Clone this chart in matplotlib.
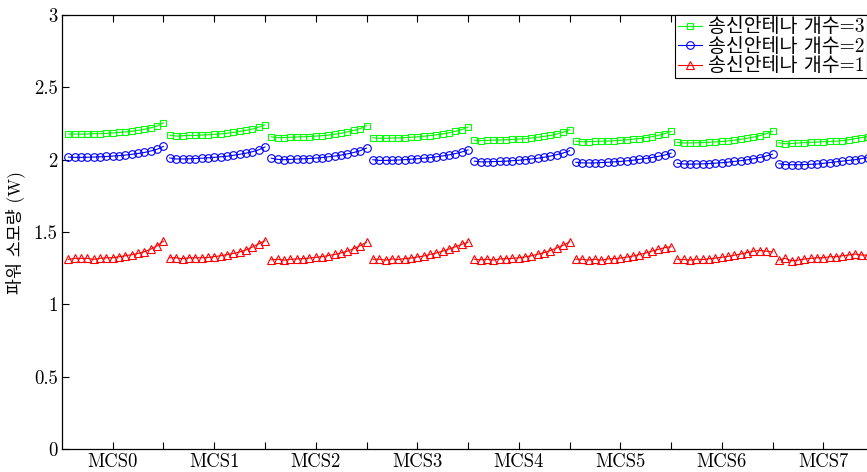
import numpy as np
import matplotlib
matplotlib.use('Agg')
import matplotlib.pyplot as plt

plt.rcParams['font.family'] = ['cmr10', 'Noto Sans CJK KR', 'DejaVu Sans']
plt.rcParams['axes.formatter.use_mathtext'] = True

mcs_labels = ['MCS0', 'MCS1', 'MCS2', 'MCS3', 'MCS4', 'MCS5', 'MCS6', 'MCS7']
points_per_mcs = 16

# 송신안테나 3개 (W)
ant3 = [
    [2.177, 2.177, 2.177, 2.178, 2.180, 2.180, 2.182, 2.185, 2.188, 2.192, 2.197, 2.203, 2.210, 2.220, 2.232, 2.255],
    [2.170, 2.163, 2.165, 2.168, 2.168, 2.170, 2.172, 2.175, 2.178, 2.183, 2.188, 2.195, 2.203, 2.212, 2.225, 2.240],
    [2.158, 2.152, 2.153, 2.155, 2.157, 2.158, 2.160, 2.163, 2.166, 2.170, 2.176, 2.183, 2.192, 2.202, 2.215, 2.235],
    [2.152, 2.148, 2.148, 2.150, 2.150, 2.152, 2.155, 2.158, 2.162, 2.166, 2.172, 2.178, 2.186, 2.196, 2.208, 2.225],
    [2.135, 2.132, 2.133, 2.135, 2.136, 2.138, 2.140, 2.142, 2.145, 2.150, 2.155, 2.161, 2.168, 2.177, 2.190, 2.207],
    [2.128, 2.124, 2.125, 2.126, 2.128, 2.129, 2.131, 2.134, 2.137, 2.141, 2.146, 2.152, 2.159, 2.168, 2.180, 2.195],
    [2.120, 2.115, 2.116, 2.117, 2.118, 2.120, 2.123, 2.126, 2.130, 2.135, 2.141, 2.148, 2.156, 2.166, 2.180, 2.197],
    [2.117, 2.110, 2.112, 2.115, 2.118, 2.120, 2.122, 2.124, 2.126, 2.128, 2.132, 2.138, 2.145, 2.152, 2.160, 2.170],
]

# 송신안테나 2개 (W)
ant2 = [
    [2.018, 2.016, 2.016, 2.017, 2.018, 2.020, 2.022, 2.025, 2.028, 2.032, 2.037, 2.043, 2.050, 2.060, 2.072, 2.092],
    [2.012, 2.005, 2.005, 2.006, 2.008, 2.010, 2.013, 2.016, 2.020, 2.024, 2.030, 2.037, 2.045, 2.055, 2.068, 2.088],
    [2.010, 2.002, 2.000, 2.002, 2.004, 2.006, 2.008, 2.011, 2.015, 2.020, 2.025, 2.032, 2.040, 2.050, 2.062, 2.080],
    [2.000, 1.995, 1.995, 1.996, 1.998, 2.000, 2.003, 2.006, 2.010, 2.014, 2.020, 2.026, 2.033, 2.042, 2.053, 2.068],
    [1.990, 1.985, 1.985, 1.987, 1.988, 1.990, 1.993, 1.996, 2.000, 2.005, 2.010, 2.017, 2.025, 2.035, 2.046, 2.062],
    [1.982, 1.978, 1.977, 1.978, 1.980, 1.982, 1.985, 1.988, 1.992, 1.996, 2.002, 2.008, 2.015, 2.023, 2.032, 2.045],
    [1.975, 1.970, 1.969, 1.970, 1.971, 1.973, 1.976, 1.979, 1.983, 1.988, 1.993, 1.999, 2.006, 2.015, 2.025, 2.038],
    [1.972, 1.966, 1.965, 1.965, 1.966, 1.968, 1.970, 1.975, 1.980, 1.985, 1.990, 1.995, 2.000, 2.007, 2.015, 2.025],
]

# 송신안테나 1개 (W)
ant1 = [
    [1.311, 1.318, 1.318, 1.318, 1.311, 1.318, 1.322, 1.322, 1.329, 1.336, 1.343, 1.352, 1.364, 1.382, 1.405, 1.437],
    [1.322, 1.322, 1.315, 1.322, 1.322, 1.322, 1.324, 1.330, 1.336, 1.343, 1.352, 1.362, 1.376, 1.396, 1.418, 1.440],
    [1.308, 1.312, 1.305, 1.312, 1.314, 1.316, 1.320, 1.325, 1.330, 1.337, 1.345, 1.355, 1.368, 1.385, 1.405, 1.430],
    [1.312, 1.312, 1.306, 1.314, 1.310, 1.316, 1.320, 1.327, 1.334, 1.345, 1.355, 1.368, 1.382, 1.398, 1.415, 1.430],
    [1.312, 1.308, 1.312, 1.306, 1.314, 1.316, 1.318, 1.322, 1.328, 1.336, 1.346, 1.358, 1.372, 1.390, 1.408, 1.432],
    [1.312, 1.312, 1.306, 1.312, 1.306, 1.314, 1.316, 1.320, 1.326, 1.334, 1.344, 1.355, 1.368, 1.380, 1.392, 1.398],
    [1.312, 1.310, 1.306, 1.312, 1.310, 1.315, 1.320, 1.325, 1.332, 1.340, 1.348, 1.358, 1.368, 1.372, 1.368, 1.362],
    [1.306, 1.318, 1.301, 1.306, 1.313, 1.318, 1.322, 1.322, 1.329, 1.329, 1.336, 1.341, 1.348, 1.341, 1.339, 1.352],
]

fig = plt.figure(figsize=(8.67, 4.72), dpi=100)
ax = fig.add_axes([0.0715, 0.0487, 0.9366, 0.9195])

n_mcs = len(mcs_labels)
for g in range(n_mcs):
    x = np.arange(g * points_per_mcs + 1, (g + 1) * points_per_mcs + 1)
    kw = dict(lw=0.8, mfc='none', mew=0.8)
    l3, = ax.plot(x, ant3[g], color=(0, 1, 0), marker='s', ms=4.5, **kw)
    l2, = ax.plot(x, ant2[g], color=(0, 0, 1), marker='o', ms=5.5, **kw)
    l1, = ax.plot(x, ant1[g], color=(1, 0, 0), marker='^', ms=5.5, **kw)

ax.set_xlim(0, n_mcs * points_per_mcs)
ax.set_ylim(0, 3)

centers = [points_per_mcs * g + points_per_mcs / 2 for g in range(n_mcs)]
bounds = [points_per_mcs * (g + 1) for g in range(n_mcs)]
ax.set_xticks(centers, mcs_labels, fontsize=13.5)
ax.set_xticks(bounds, minor=True)
yt = [0, 0.5, 1, 1.5, 2, 2.5, 3]
ax.set_yticks(yt, ['0', '0.5', '1', '1.5', '2', '2.5', '3'], fontsize=13.5)

ax.tick_params(which='both', direction='in', top=True, right=True, length=5, width=0.8, pad=3)
for s in ax.spines.values():
    s.set_linewidth(0.9)

ax.set_ylabel('파워 소모량 (W)', fontsize=12.5, labelpad=6)

leg = ax.legend([l3, l2, l1], ['송신안테나 개수=3', '송신안테나 개수=2', '송신안테나 개수=1'],
                loc='upper right', bbox_to_anchor=(0.9915, 0.999), fontsize=14,
                fancybox=False, edgecolor='black', framealpha=1, borderaxespad=0,
                handlelength=1.2, handletextpad=0.3, labelspacing=0.08, borderpad=0.15)
leg.get_frame().set_linewidth(0.8)

fig.savefig('out.png', dpi=100)
